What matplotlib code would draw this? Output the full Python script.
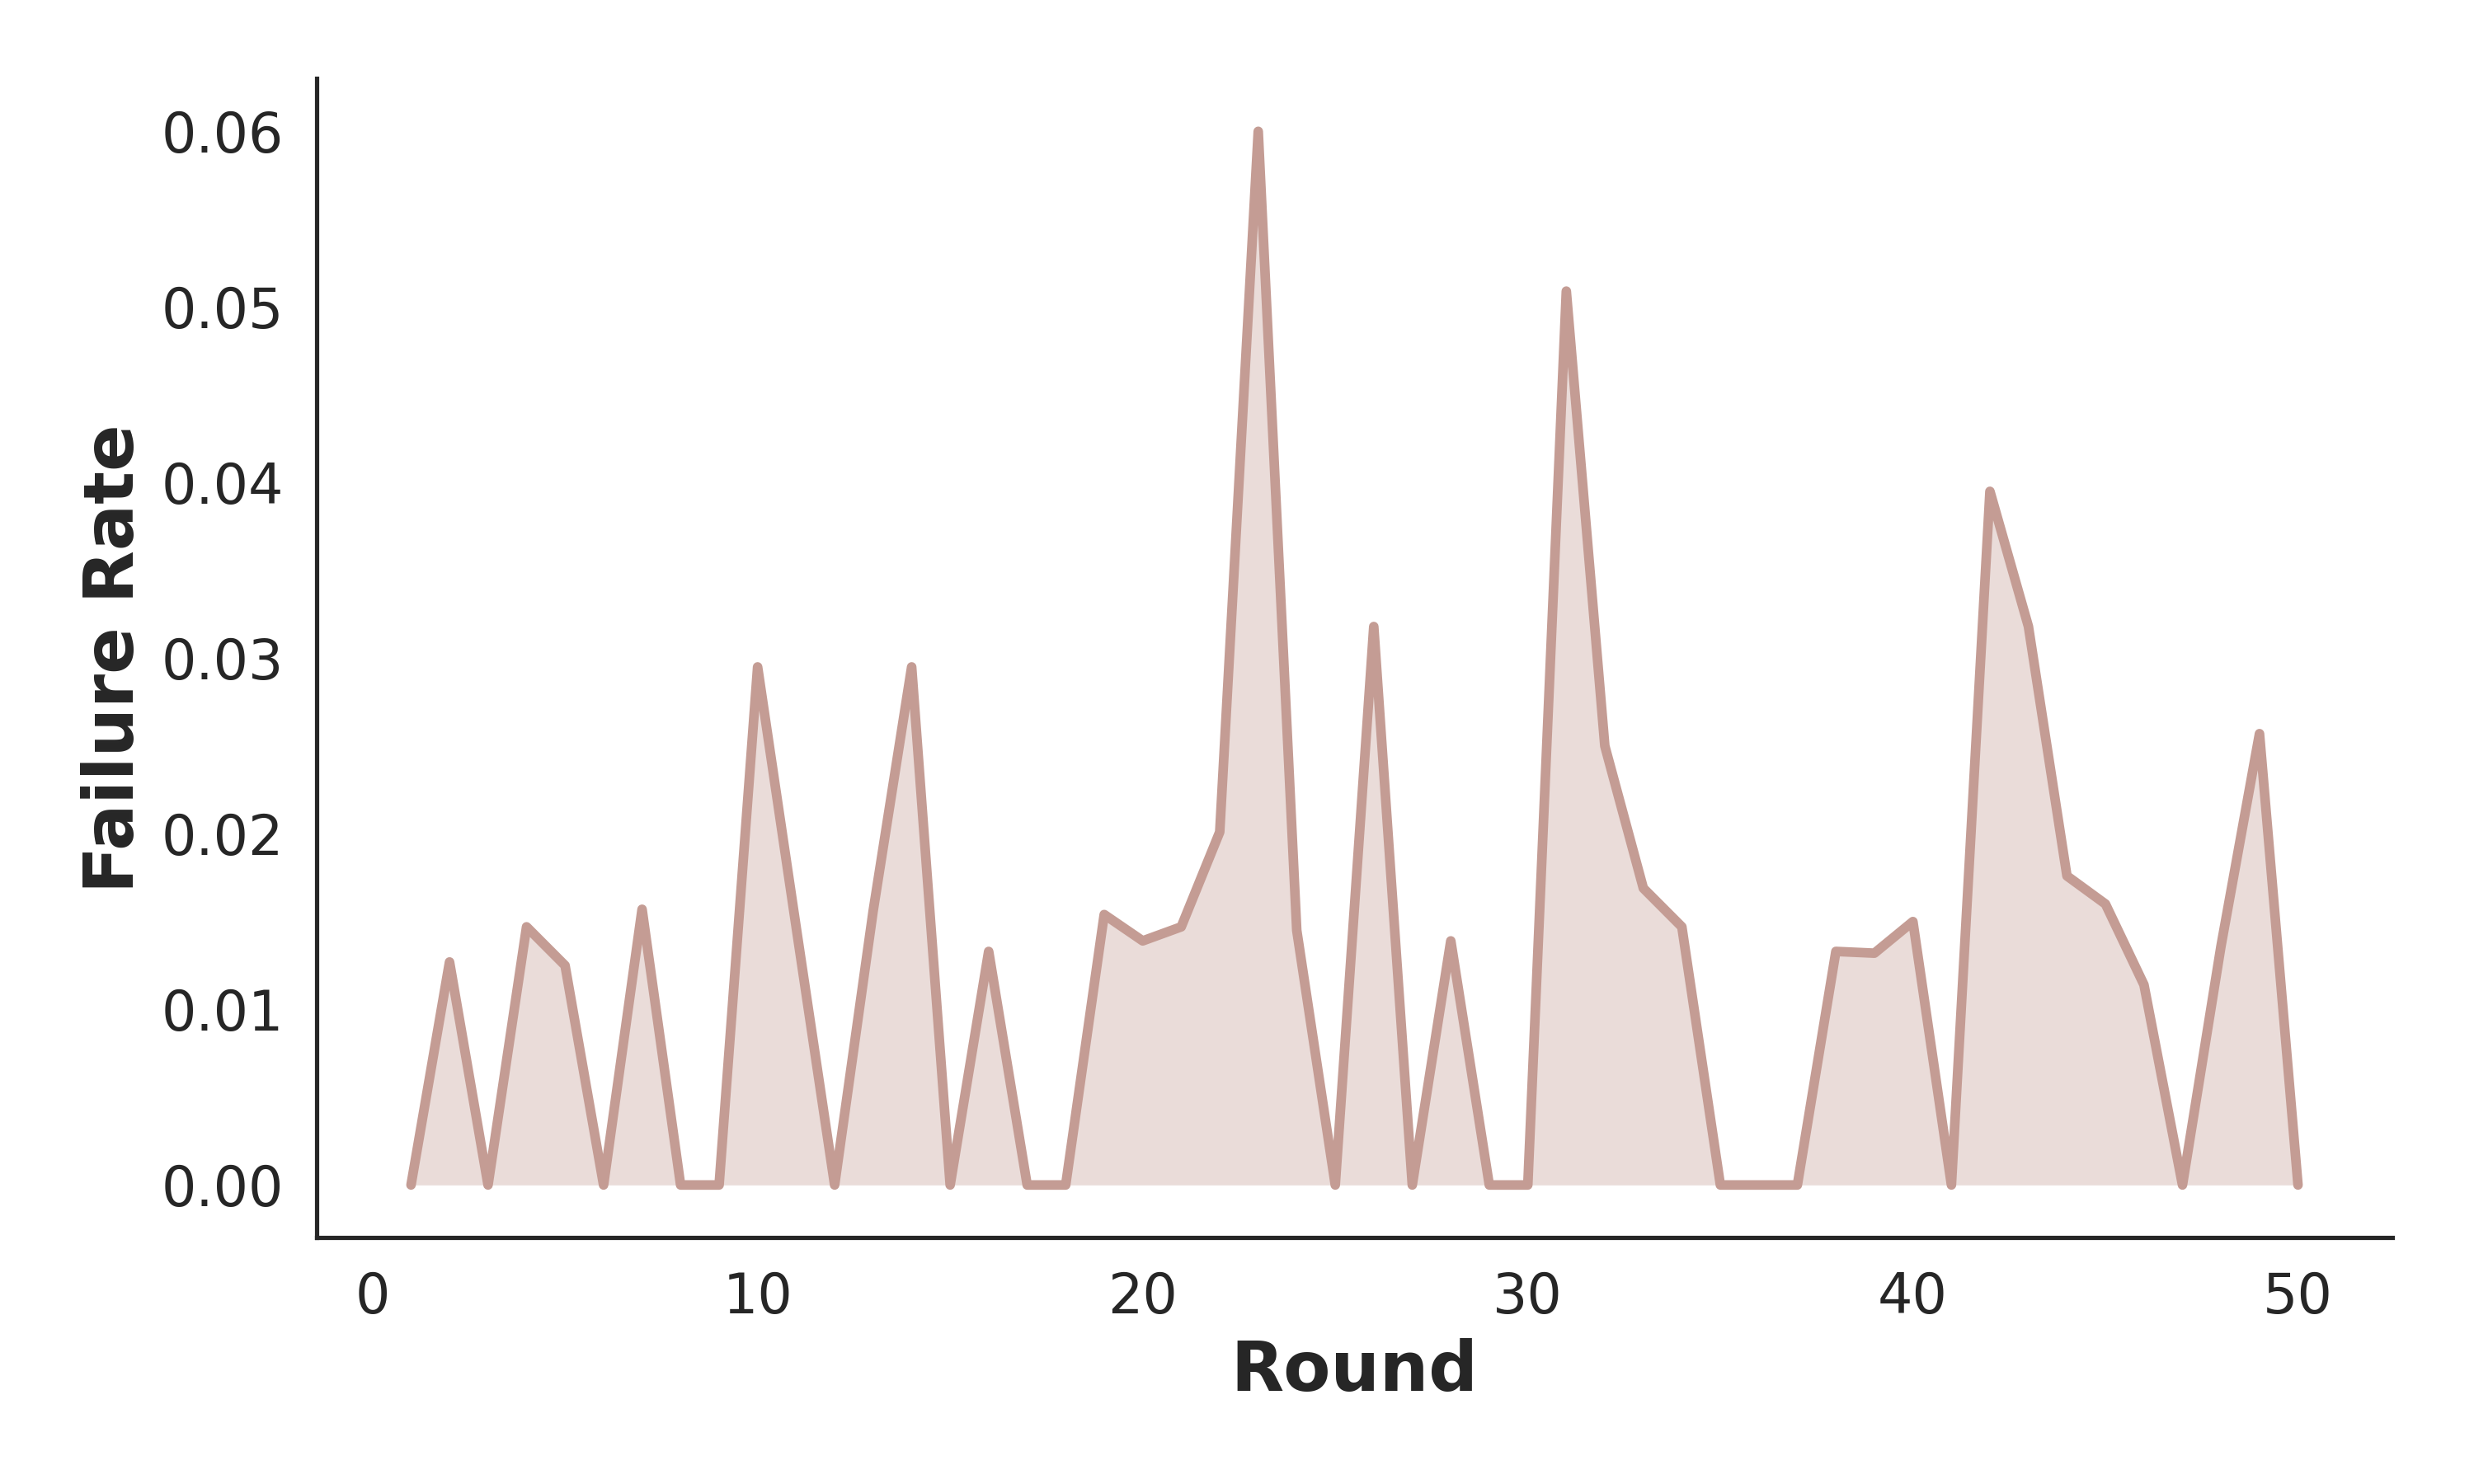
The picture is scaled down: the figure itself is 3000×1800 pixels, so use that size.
import numpy as np
import matplotlib.pyplot as plt
import seaborn as sns

sns.set_style('white')

rounds = list(range(1, 51))
failure_rate = [
    0.0, 0.0127, 0.0, 0.0147, 0.0125, 0.0, 0.0157, 0.0, 0.0, 0.0295,
    0.0147, 0.0, 0.0156, 0.0295, 0.0, 0.0133, 0.0, 0.0, 0.0154, 0.0139,
    0.0147, 0.0201, 0.0600, 0.0145, 0.0, 0.0318, 0.0, 0.0139, 0.0, 0.0,
    0.0509, 0.0250, 0.0169, 0.0147, 0.0, 0.0, 0.0, 0.0133, 0.0132, 0.0150,
    0.0, 0.0395, 0.0318, 0.0176, 0.0160, 0.0114, 0.0, 0.0136, 0.0257, 0.0,
]

line_color = '#c49c94'

fig = plt.figure(figsize=(10, 6), dpi=300)
ax = fig.add_axes([0.128, 0.166, 0.839, 0.781])

ax.fill_between(rounds, failure_rate, color=line_color, alpha=0.35, linewidth=0)
ax.plot(rounds, failure_rate, color=line_color, linewidth=2.8)

ax.set_xlabel('Round', fontsize=20, fontweight='bold', labelpad=4)
ax.set_ylabel('Failure Rate', fontsize=20, fontweight='bold', labelpad=4)
ax.tick_params(labelsize=16, length=0, pad=9.5)
ax.set_xticks([0, 10, 20, 30, 40, 50])
ax.set_yticks([0, 0.01, 0.02, 0.03, 0.04, 0.05, 0.06])
ax.set_yticklabels(['0.00', '0.01', '0.02', '0.03', '0.04', '0.05', '0.06'])

sns.despine(ax=ax)
for s in ['left', 'bottom']:
    ax.spines[s].set_color('#262626')
    ax.spines[s].set_linewidth(1.25)

fig.savefig('out.png', dpi=300)
